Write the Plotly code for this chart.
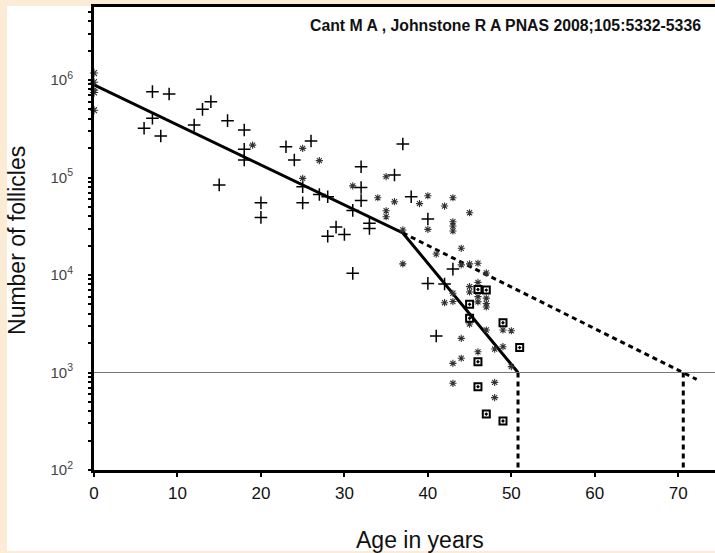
import plotly.graph_objects as go

# ---------------- data ----------------
plus_age = [7, 9, 7, 6, 8, 12, 13, 14, 16, 18, 18, 18, 15, 20, 20, 23, 24, 26, 25, 25,
            27, 28, 28, 37, 31, 29, 30, 31, 32, 32, 32, 36, 33, 33, 38, 40, 43, 40, 42, 41]
plus_count = [7.6e5, 7.2e5, 4.05e5, 3.2e5, 2.67e5, 3.45e5, 5.0e5, 6.0e5, 3.83e5, 3.07e5,
              1.95e5, 1.51e5, 8.4e4, 5.5e4, 3.9e4, 2.07e5, 1.51e5, 2.37e5, 8.05e4, 5.5e4,
              6.7e4, 6.35e4, 2.5e4, 2.21e5, 4.6e4, 3.1e4, 2.6e4, 1.04e4, 1.29e5, 7.9e4,
              5.8e4, 1.06e5, 3.4e4, 3.0e4, 6.35e4, 3.75e4, 1.15e4, 8.2e3, 8.1e3, 2.37e3]

star_age = [19, 25, 27, 25, 31, 35, 34, 36, 35, 35, 37, 39, 40, 43, 42, 45, 40, 43, 43, 43,
            37, 41, 44, 44, 45, 46, 47, 43, 42, 43, 45, 45, 46, 46, 46, 47, 47, 47, 45, 47,
            49, 50, 44, 48, 49, 46, 44, 43, 50, 43, 48, 48]
star_count = [2.15e5, 1.99e5, 1.49e5, 9.8e4, 8.2e4, 1.02e5, 6.2e4, 5.65e4, 4.56e4, 3.96e4,
              2.9e4, 5.4e4, 6.5e4, 6.2e4, 5.1e4, 4.35e4, 2.94e4, 3.52e4, 3.18e4, 2.83e4,
              1.3e4, 1.64e4, 1.88e4, 1.27e4, 1.3e4, 1.32e4, 1.05e4, 6.5e3, 5.2e3, 5.35e3,
              7.6e3, 6.7e3, 8.4e3, 6.0e3, 5.3e3, 5.8e3, 5.1e3, 4.7e3, 3.14e3, 2.73e3,
              2.73e3, 2.68e3, 2.24e3, 1.74e3, 1.84e3, 1.63e3, 1.4e3, 1.24e3, 1.15e3, 775,
              793, 552]

square_age = [46, 47, 45, 45, 49, 51, 46, 46, 47, 49]
square_count = [7.1e3, 7.0e3, 5.0e3, 3.6e3, 3.24e3, 1.8e3, 1.29e3, 715, 375, 318]

birth_age = [0, 0, 0, 0, 0]
birth_count = [1.18e6, 9.5e5, 7.9e5, 7.45e5, 4.9e5]

fit_age = [0, 37, 50.8]
fit_count = [8.9e5, 2.7e4, 1000]

extrap_age = [37, 72.2]
extrap_count = [2.7e4, 850]

cutoff_ages = [50.8, 70.6]
threshold = 1000
axis_floor = 100

x_ticks = [0, 10, 20, 30, 40, 50, 60, 70]
y_ticks = [1e2, 1e3, 1e4, 1e5, 1e6]
y_ticktext = ["10<sup>2</sup>", "10<sup>3</sup>", "10<sup>4</sup>",
              "10<sup>5</sup>", "10<sup>6</sup>"]
y_minor = [m * 10 ** e for e in range(2, 7) for m in range(2, 10)]

citation = "Cant M A , Johnstone R A PNAS 2008;105:5332-5336"

BEIGE = "#FDECD5"
FONT = "Arial, 'Liberation Sans', sans-serif"

# ---------------- figure ----------------
fig = go.Figure()

fig.add_trace(go.Scatter(x=fit_age, y=fit_count, mode="lines",
                         line=dict(color="black", width=3)))
fig.add_trace(go.Scatter(x=extrap_age, y=extrap_count, mode="lines",
                         line=dict(color="black", width=3, dash="5px,4px")))
for a in cutoff_ages:
    fig.add_trace(go.Scatter(x=[a, a], y=[threshold, axis_floor], mode="lines",
                             line=dict(color="black", width=3, dash="5px,4px")))

fig.add_trace(go.Scatter(x=plus_age, y=plus_count, mode="markers",
                         marker=dict(symbol="cross-thin", size=9, color="black",
                                     line=dict(color="black", width=1.5))))
fig.add_trace(go.Scatter(x=star_age, y=star_count, mode="markers",
                         marker=dict(symbol="asterisk-open", size=6, color="#333",
                                     line=dict(color="#333", width=1.1))))
fig.add_trace(go.Scatter(x=square_age, y=square_count, mode="markers",
                         marker=dict(symbol="square-open-dot", size=7, color="black",
                                     line=dict(color="black", width=2))))
fig.add_trace(go.Scatter(x=birth_age, y=birth_count, mode="markers", cliponaxis=False,
                         marker=dict(symbol="asterisk-open", size=7, color="#333",
                                     line=dict(color="#333", width=1.1))))

# white panel behind the plot
fig.add_shape(type="rect", xref="paper", yref="paper",
              x0=-0.1401, x1=1.01, y0=-0.175, y1=1.0022,
              fillcolor="white", line=dict(width=0), layer="below")
# threshold line
fig.add_shape(type="line", xref="paper", yref="y", x0=0, x1=1,
              y0=threshold, y1=threshold, line=dict(color="#777", width=1))

fig.add_annotation(text="Age in years", xref="paper", yref="paper",
                   x=0.525, y=-0.1512, xanchor="center", yanchor="middle",
                   showarrow=False, font=dict(family=FONT, size=23, color="#111"))
fig.add_annotation(text="Number of follicles", xref="paper", yref="paper",
                   x=-0.124, y=0.4968, xanchor="center", yanchor="middle",
                   textangle=-90, showarrow=False,
                   font=dict(family=FONT, size=23, color="#111"))
fig.add_annotation(text="<b>" + citation + "</b>", xref="paper", yref="paper",
                   x=0.9807, y=0.9611, xanchor="right", yanchor="middle",
                   showarrow=False, font=dict(family=FONT, size=15.8, color="#111"))

fig.update_layout(
    width=715, height=553,
    margin=dict(l=94, r=0, t=7, b=83, pad=0),
    paper_bgcolor=BEIGE, plot_bgcolor="white",
    showlegend=False, hovermode=False,
    font=dict(family=FONT),
    xaxis=dict(range=[0, 74.4], tickmode="array", tickvals=x_ticks,
               ticks="outside", ticklen=4, tickwidth=2, tickcolor="black",
               showline=True, linewidth=3, linecolor="black", mirror=True,
               showgrid=False, zeroline=False, ticklabelstandoff=2,
               tickfont=dict(size=17, color="#111")),
    yaxis=dict(type="log", range=[2, 6.749], tickmode="array",
               tickvals=y_ticks, ticktext=y_ticktext,
               ticks="outside", ticklen=3, tickwidth=2, tickcolor="black",
               minor=dict(tickmode="array", tickvals=y_minor, ticks="outside",
                          ticklen=3, tickwidth=2, tickcolor="black"),
               showline=True, linewidth=3, linecolor="black",
               showgrid=False, zeroline=False, ticklabelstandoff=12,
               tickfont=dict(size=15, color="#444")),
)

fig.write_html(
    "out.html",
    config={"displayModeBar": False},
    post_script="document.body.style.margin='0px';"
                "document.body.style.background='" + BEIGE + "';",
)
